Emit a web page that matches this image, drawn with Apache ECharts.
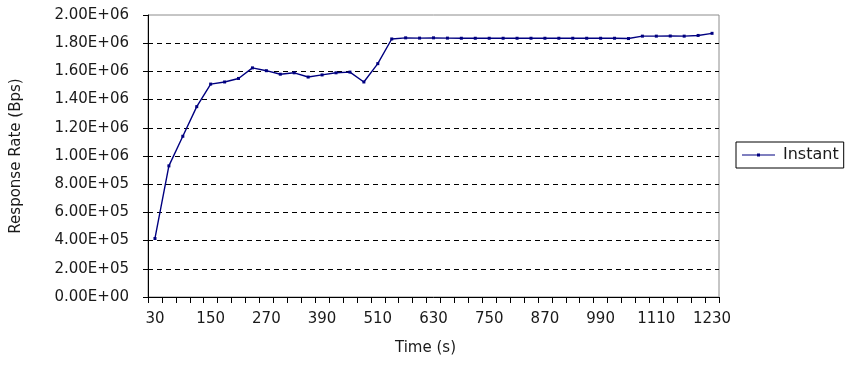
<!DOCTYPE html>
<html>
<head>
<meta charset="utf-8">
<script src="https://cdn.jsdelivr.net/npm/echarts@6/dist/echarts.min.js"></script>
<style>
  html, body { margin: 0; padding: 0; background: #ffffff; }
  #chart { width: 850px; height: 367px; }
</style>
</head>
<body>
<div id="chart"></div>
<script>
// Sample times (s), one reading every 30 s
const times = [30, 60, 90, 120, 150, 180, 210, 240, 270, 300,
               330, 360, 390, 420, 450, 480, 510, 540, 570, 600,
               630, 660, 690, 720, 750, 780, 810, 840, 870, 900,
               930, 960, 990, 1020, 1050, 1080, 1110, 1140, 1170, 1200,
               1230];

// Instantaneous response rate (bytes per second)
const instant = [415000, 930000, 1140000, 1350000, 1510000, 1525000, 1550000, 1625000, 1605000, 1580000,
                 1590000, 1560000, 1575000, 1590000, 1595000, 1525000, 1655000, 1830000, 1838000, 1836000,
                 1838000, 1836000, 1835000, 1835000, 1835000, 1835000, 1835000, 1835000, 1835000, 1835000,
                 1835000, 1835000, 1835000, 1835000, 1833000, 1850000, 1850000, 1851000, 1850000, 1855000,
                 1870000];

const seriesName = 'Instant';
const xTitle = 'Time (s)';
const yTitle = 'Response Rate (Bps)';

const FONT = 'DejaVu Sans';
const TEXT = '#1a1a1a';

// Spreadsheet-style scientific notation, e.g. 1.80E+06
function sci(v) {
  if (v === 0) return '0.00E+00';
  const exp = Math.floor(Math.log10(Math.abs(v)));
  const mant = v / Math.pow(10, exp);
  const e = String(Math.abs(exp)).padStart(2, '0');
  return mant.toFixed(2) + 'E' + (exp < 0 ? '-' : '+') + e;
}

// Dashed gridlines everywhere except the bottom (axis) and the top (frame)
const gridColors = [];
for (let i = 0; i <= 10; i++) gridColors.push(i === 0 || i === 10 ? 'rgba(0,0,0,0)' : '#000000');

// Legend key: a thin line with a small square marker in the middle
const legendIcon = 'path://M0,1 L33,1 L33,2 L0,2 Z M15,0 L18,0 L18,3 L15,3 Z';

const chart = echarts.init(document.getElementById('chart'), null, { renderer: 'canvas' });
chart.setOption({
  backgroundColor: '#ffffff',
  animation: false,
  textStyle: { fontFamily: FONT, color: TEXT },
  grid: {
    left: 148, top: 15, right: 131, bottom: 70,
    show: true, borderColor: '#8c8c8c', borderWidth: 1, backgroundColor: '#ffffff'
  },
  legend: {
    left: 736, top: 142,
    orient: 'vertical',
    padding: [5, 5, 5, 6],
    borderColor: '#000000', borderWidth: 1,
    icon: legendIcon,
    itemWidth: 33, itemHeight: 3,
    itemStyle: { color: '#000080' },
    textStyle: { fontFamily: FONT, fontSize: 16, color: TEXT, padding: [0, 0, 0, 3] },
    data: [seriesName]
  },
  xAxis: {
    type: 'category',
    data: times,
    boundaryGap: true,
    name: xTitle,
    nameLocation: 'middle',
    nameGap: 44,
    nameTextStyle: { fontFamily: FONT, fontSize: 15, color: TEXT, padding: [0, 16, 0, 0] },
    axisLine: { show: true, lineStyle: { color: '#000000', width: 1 } },
    axisTick: { show: true, interval: 0, length: 6, lineStyle: { color: '#000000' } },
    axisLabel: { interval: 3, margin: 15, fontFamily: FONT, fontSize: 15, color: TEXT },
    splitLine: { show: false }
  },
  yAxis: {
    type: 'value',
    min: 0, max: 2000000, interval: 200000,
    name: yTitle,
    nameLocation: 'middle',
    nameRotate: 90,
    nameGap: 124,
    nameTextStyle: { fontFamily: FONT, fontSize: 15, color: TEXT },
    axisLine: { show: true, lineStyle: { color: '#000000', width: 1 } },
    axisTick: { show: true, length: 5, lineStyle: { color: '#000000' } },
    axisLabel: { margin: 19, fontFamily: FONT, fontSize: 15, color: TEXT, formatter: sci },
    splitLine: { show: true, lineStyle: { color: gridColors, type: [5, 4], width: 1 } }
  },
  series: [{
    name: seriesName,
    type: 'line',
    data: instant,
    color: '#000080',
    lineStyle: { color: '#000080', width: 1.4 },
    itemStyle: { color: '#000080' },
    symbol: 'rect',
    symbolSize: 3,
    showAllSymbol: true
  }]
});
</script>
</body>
</html>
